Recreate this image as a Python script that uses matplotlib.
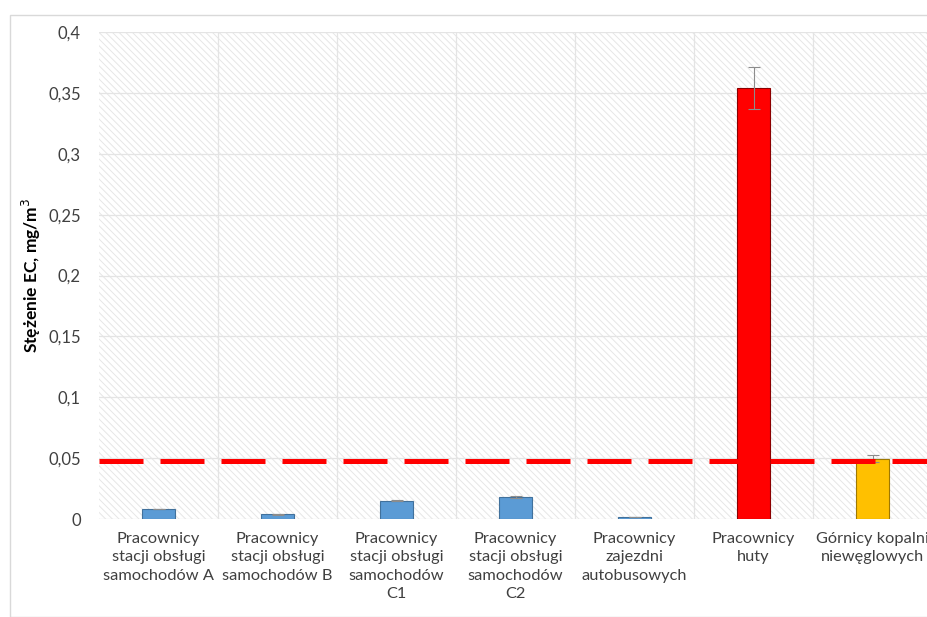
import matplotlib.pyplot as plt
from matplotlib.patches import Rectangle
import numpy as np

plt.rcParams["font.family"] = ["Lato", "DejaVu Sans"]
plt.rcParams["hatch.color"] = "#e6e6e6"
plt.rcParams["hatch.linewidth"] = 0.7

categories = [
    "Pracownicy\nstacji obsługi\nsamochodów A",
    "Pracownicy\nstacji obsługi\nsamochodów B",
    "Pracownicy\nstacji obsługi\nsamochodów\nC1",
    "Pracownicy\nstacji obsługi\nsamochodów\nC2",
    "Pracownicy\nzajezdni\nautobusowych",
    "Pracownicy\nhuty",
    "Górnicy kopalni\nniewęglowych",
]
ec_mean = [0.008, 0.004, 0.015, 0.018, 0.002, 0.354, 0.0495]
ec_err = [0.0, 0.0004, 0.0005, 0.0008, 0.0, 0.017, 0.003]
bar_colors = ["#5b9bd5"] * 5 + ["#ff0000", "#ffc000"]
edge_colors = ["#41719c"] * 5 + ["#8b0000", "#a07800"]
limit = 0.048
yticks = [0, 0.05, 0.1, 0.15, 0.2, 0.25, 0.3, 0.35, 0.4]
ytick_labels = ["0", "0,05", "0,1", "0,15", "0,2", "0,25", "0,3", "0,35", "0,4"]

W, H = 928, 617
fig = plt.figure(figsize=(W / 100, H / 100), dpi=100)
fig.patches.append(Rectangle((10 / W, 0), 1, 1 - 15 / H, transform=fig.transFigure,
                             fill=False, edgecolor="#d9d9d9", linewidth=1))

left, top, bottom = 99, 32, 519
cat_w = 119
ax = fig.add_axes([left / W, 1 - bottom / H, 7 * cat_w / W, (bottom - top) / H])
ax.patch.set_facecolor("white")
ax.patch.set_hatch("\\\\\\\\\\")
ax.patch.set_edgecolor("#e6e6e6")
ax.patch.set_linewidth(0)

x = np.arange(len(categories))
ax.bar(x, ec_mean, width=0.28, color=bar_colors, edgecolor=edge_colors,
       linewidth=0.8, zorder=3)
ax.errorbar(x, ec_mean, yerr=ec_err, fmt="none", ecolor="#8c8c8c",
            elinewidth=0.8, capsize=4, capthick=0.8, zorder=4)
ax.axhline(limit, color="#ff0000", linewidth=3.6, dashes=(8.8, 3.4), zorder=5)

ax.set_xlim(-0.5, len(categories) - 0.5)
ax.set_ylim(0, 0.4)
ax.set_yticks(yticks)
ax.set_yticklabels(ytick_labels, fontsize=12, color="#404040")
ax.set_xticks(x)
ax.set_xticklabels(categories, fontsize=11.8, color="#404040", linespacing=1.42)
ax.set_xticks(np.arange(len(categories) - 1) + 0.5, minor=True)
ax.tick_params(axis="both", which="both", length=0)
ax.tick_params(axis="y", pad=13)
ax.tick_params(axis="x", pad=9)
ax.grid(True, axis="y", which="major", color="#e4e4e4", linewidth=0.9, zorder=1)
ax.grid(True, axis="x", which="minor", color="#e4e4e4", linewidth=0.9, zorder=1)
ax.set_axisbelow(True)
for s in ax.spines.values():
    s.set_visible(False)

ax.set_ylabel("Stężenie EC, mg/m$^3$", fontsize=12.5, fontweight="bold", labelpad=4)

fig.savefig("out.png", dpi=100)
